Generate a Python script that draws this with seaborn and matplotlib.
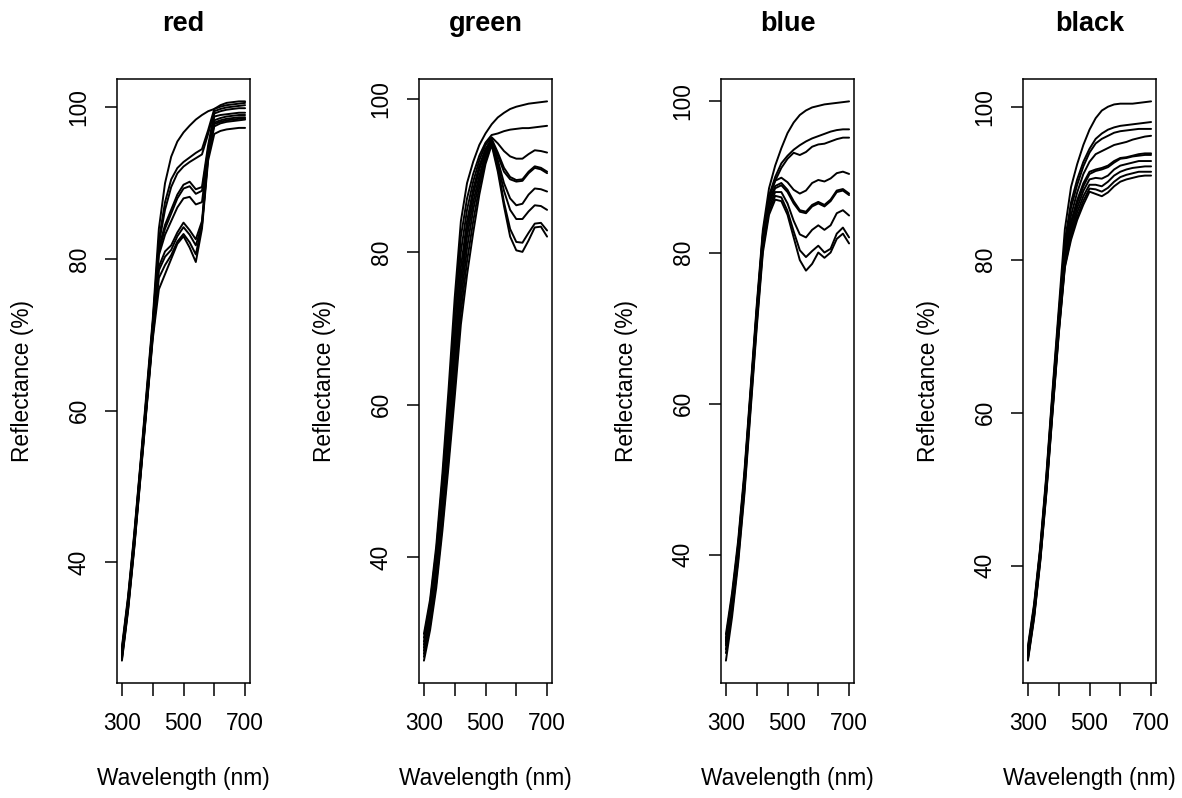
import numpy as np
import pandas as pd
import matplotlib
matplotlib.use("Agg")
import matplotlib.pyplot as plt
import seaborn as sns

wavelengths = [300, 320, 340, 360, 380, 400, 420, 440, 460, 480, 500,
               520, 540, 560, 580, 600, 620, 640, 660, 680, 700]

panel_titles = ["red", "green", "blue", "black"]

red_curves = [
    [28.8, 35.5, 43.8, 53.0, 62.5, 72.0, 84.0, 90.0, 93.5, 95.5, 96.7, 97.6, 98.4, 99.0, 99.5, 99.8, 100.1, 100.3, 100.4, 100.5, 100.6],
    [28.5, 35.2, 43.5, 52.7, 62.0, 71.5, 82.5, 87.5, 90.5, 92.0, 92.8, 93.4, 94.0, 94.5, 97.0, 99.8, 100.3, 100.6, 100.7, 100.8, 100.8],
    [28.3, 35.0, 43.3, 52.5, 61.8, 71.2, 82.0, 86.5, 89.5, 91.3, 92.2, 92.8, 93.3, 93.8, 96.5, 99.5, 99.8, 100.0, 100.1, 100.2, 100.3],
    [28.2, 34.8, 43.0, 52.3, 61.5, 71.0, 81.5, 84.5, 86.5, 88.5, 89.8, 90.2, 89.2, 89.5, 95.0, 99.2, 99.5, 99.7, 99.8, 99.9, 99.9],
    [28.0, 34.6, 42.8, 52.0, 61.2, 70.7, 81.0, 84.0, 86.0, 88.0, 89.3, 89.6, 88.6, 89.0, 94.5, 98.8, 99.0, 99.1, 99.2, 99.3, 99.3],
    [27.8, 34.4, 42.6, 51.8, 61.0, 70.4, 80.5, 83.2, 85.0, 86.8, 88.0, 88.2, 87.2, 87.5, 94.0, 98.3, 98.6, 98.8, 98.9, 99.0, 99.0],
    [27.6, 34.2, 42.4, 51.6, 60.8, 70.2, 79.0, 81.0, 81.8, 83.5, 84.8, 83.8, 82.6, 85.0, 94.0, 98.0, 98.3, 98.5, 98.6, 98.7, 98.7],
    [27.4, 34.0, 42.2, 51.4, 60.6, 70.0, 78.5, 80.3, 81.2, 83.0, 84.2, 83.2, 81.8, 84.5, 93.8, 97.8, 98.1, 98.3, 98.4, 98.5, 98.5],
    [27.2, 33.8, 42.0, 51.2, 60.4, 69.7, 77.5, 79.2, 80.5, 82.3, 83.3, 82.2, 80.6, 84.5, 93.5, 97.5, 97.9, 98.1, 98.2, 98.3, 98.4],
    [27.0, 33.6, 41.8, 51.0, 60.2, 69.4, 76.0, 78.0, 80.0, 82.0, 83.0, 81.5, 79.6, 84.0, 93.0, 96.5, 96.9, 97.1, 97.2, 97.3, 97.3],
]

green_curves = [
    [30.0, 34.5, 41.5, 51.0, 62.0, 74.0, 84.0, 89.0, 91.8, 94.0, 95.5, 96.7, 97.6, 98.2, 98.7, 99.0, 99.2, 99.4, 99.5, 99.6, 99.7],
    [29.5, 34.0, 40.8, 50.0, 60.5, 72.0, 82.0, 87.0, 90.2, 92.6, 94.3, 95.3, 95.5, 95.8, 96.0, 96.1, 96.2, 96.2, 96.3, 96.4, 96.5],
    [29.0, 33.5, 40.0, 49.0, 59.0, 70.0, 80.0, 85.5, 89.2, 92.0, 94.0, 95.0, 94.2, 93.2, 92.5, 92.2, 92.2, 92.8, 93.3, 93.2, 93.0],
    [28.6, 33.0, 39.3, 48.0, 57.5, 68.0, 78.0, 84.0, 88.2, 91.3, 93.5, 94.8, 93.0, 91.0, 89.8, 89.4, 89.5, 90.5, 91.2, 91.0, 90.5],
    [28.2, 32.6, 38.7, 47.2, 56.3, 66.5, 76.5, 83.0, 87.5, 90.8, 93.2, 94.6, 92.6, 90.5, 89.5, 89.2, 89.3, 90.3, 91.0, 90.8, 90.3],
    [27.8, 32.2, 38.0, 46.3, 55.0, 65.0, 75.0, 82.0, 86.5, 90.0, 92.8, 94.5, 92.0, 89.0, 87.0, 86.1, 86.3, 87.5, 88.3, 88.2, 87.9],
    [27.4, 31.7, 37.3, 45.3, 54.0, 63.5, 73.5, 80.5, 85.5, 89.3, 92.5, 94.4, 91.5, 88.0, 85.5, 84.3, 84.3, 85.3, 86.1, 86.0, 85.5],
    [27.0, 31.1, 36.7, 44.4, 53.0, 62.2, 72.0, 78.8, 84.0, 88.5, 92.0, 94.2, 91.0, 86.5, 83.0, 81.3, 81.2, 82.5, 83.7, 83.8, 82.8],
    [26.5, 30.5, 36.0, 43.5, 52.0, 61.0, 70.5, 77.0, 82.5, 87.5, 91.5, 94.0, 90.5, 86.0, 82.0, 80.2, 80.0, 81.5, 83.2, 83.3, 82.0],
]

blue_curves = [
    [29.5, 35.0, 42.0, 51.0, 62.0, 73.0, 83.0, 88.5, 91.5, 93.8, 95.8, 97.2, 98.2, 98.8, 99.2, 99.4, 99.6, 99.7, 99.8, 99.9, 100.0],
    [29.0, 34.5, 41.5, 50.5, 61.5, 72.5, 82.5, 87.5, 90.0, 91.8, 92.8, 93.6, 94.2, 94.7, 95.1, 95.4, 95.7, 96.0, 96.2, 96.3, 96.3],
    [28.7, 34.2, 41.2, 50.2, 61.2, 72.2, 82.2, 87.2, 89.5, 91.2, 92.4, 93.2, 92.9, 93.3, 94.0, 94.3, 94.4, 94.7, 95.0, 95.2, 95.2],
    [28.5, 34.0, 41.0, 50.0, 61.0, 72.0, 82.0, 87.5, 89.5, 89.9, 89.3, 88.3, 87.8, 88.2, 89.2, 89.6, 89.4, 89.8, 90.5, 90.7, 90.4],
    [28.2, 33.7, 40.7, 49.7, 60.7, 71.7, 81.5, 86.8, 88.8, 89.2, 88.3, 86.8, 85.6, 85.4, 86.3, 86.7, 86.3, 87.0, 88.2, 88.4, 87.8],
    [28.0, 33.5, 40.5, 49.5, 60.5, 71.5, 81.3, 86.5, 88.5, 88.9, 88.0, 86.5, 85.4, 85.2, 86.1, 86.5, 86.1, 86.8, 88.0, 88.2, 87.6],
    [27.5, 33.0, 40.0, 49.0, 60.0, 71.0, 80.8, 86.0, 88.0, 88.0, 86.5, 84.2, 82.4, 82.0, 83.0, 83.6, 83.0, 83.6, 85.2, 85.6, 84.9],
    [27.0, 32.5, 39.5, 48.5, 59.5, 70.5, 80.5, 85.5, 87.5, 87.3, 85.5, 82.8, 80.3, 79.4, 80.2, 80.9, 80.0, 80.5, 82.5, 83.3, 82.0],
    [26.0, 31.8, 39.0, 48.0, 59.0, 70.0, 80.0, 85.0, 87.0, 86.8, 85.0, 82.0, 79.0, 77.6, 78.5, 80.0, 79.3, 80.0, 81.8, 82.5, 81.2],
]

black_curves = [
    [29.5, 35.0, 42.5, 52.0, 63.0, 73.5, 84.0, 89.5, 92.5, 95.0, 97.0, 98.5, 99.5, 100.0, 100.3, 100.4, 100.4, 100.4, 100.5, 100.6, 100.7],
    [29.2, 34.7, 42.2, 51.6, 62.5, 72.8, 82.5, 87.5, 90.5, 92.8, 94.5, 95.8, 96.5, 97.0, 97.3, 97.5, 97.6, 97.7, 97.8, 97.9, 98.0],
    [29.0, 34.5, 42.0, 51.3, 62.2, 72.4, 82.0, 86.8, 89.8, 92.2, 94.0, 95.2, 95.8, 96.2, 96.6, 96.8, 96.9, 97.0, 97.1, 97.1, 97.1],
    [28.8, 34.3, 41.8, 51.0, 61.8, 72.0, 81.2, 85.8, 88.8, 91.2, 92.8, 93.8, 94.2, 94.6, 95.0, 95.2, 95.4, 95.7, 95.9, 96.1, 96.2],
    [28.6, 34.1, 41.5, 50.7, 61.4, 71.6, 80.5, 85.0, 87.8, 90.0, 91.5, 91.8, 92.0, 92.3, 92.9, 93.3, 93.4, 93.6, 93.8, 93.9, 93.9],
    [28.4, 33.9, 41.3, 50.5, 61.1, 71.3, 80.2, 84.6, 87.4, 89.6, 91.2, 91.6, 91.8, 92.1, 92.7, 93.2, 93.3, 93.5, 93.6, 93.7, 93.7],
    [28.2, 33.7, 41.1, 50.2, 60.8, 71.0, 79.8, 84.0, 86.8, 89.0, 90.5, 90.7, 90.6, 91.0, 91.8, 92.3, 92.5, 92.7, 92.9, 92.9, 92.9],
    [28.0, 33.5, 40.9, 50.0, 60.5, 70.7, 79.5, 83.5, 86.2, 88.3, 89.8, 89.8, 89.6, 90.2, 91.0, 91.5, 91.8, 92.0, 92.1, 92.2, 92.2],
    [27.8, 33.3, 40.7, 49.7, 60.2, 70.4, 79.2, 83.0, 85.6, 87.7, 89.3, 89.2, 88.9, 89.4, 90.2, 90.8, 91.1, 91.3, 91.5, 91.5, 91.5],
    [27.6, 33.1, 40.5, 49.5, 60.0, 70.2, 79.0, 82.6, 85.2, 87.2, 88.9, 88.6, 88.3, 88.8, 89.6, 90.2, 90.5, 90.7, 90.9, 91.0, 91.0],
]

x_ticks = [300, 400, 500, 600, 700]
x_tick_labels = ["300", "", "500", "", "700"]
y_ticks = [40, 60, 80, 100]
x_label = "Wavelength (nm)"
y_label = "Reflectance (%)"

sns.set_style("white")
plt.rcParams["font.family"] = ["Liberation Sans", "DejaVu Sans"]
plt.rcParams["text.color"] = "black"
plt.rcParams["xtick.color"] = "black"
plt.rcParams["ytick.color"] = "black"

W, H = 1182, 798
fig = plt.figure(figsize=(W / 100, H / 100), dpi=100)

panel_lefts = [117, 419, 721, 1023]
panel_w = 133
ax_top, ax_bottom = 79, 683
FS = 16.4

all_panels = [red_curves, green_curves, blue_curves, black_curves]
for i, (title, curves) in enumerate(zip(panel_titles, all_panels)):
    left = panel_lefts[i]
    ax = fig.add_axes([left / W, (H - ax_bottom) / H, panel_w / W, (ax_bottom - ax_top) / H])
    rows = []
    for c, vals in enumerate(curves):
        for wl, v in zip(wavelengths, vals):
            rows.append({"wl": wl, "refl": v, "curve": c})
    df = pd.DataFrame(rows)
    sns.lineplot(data=df, x="wl", y="refl", units="curve", estimator=None,
                 color="black", lw=1.4, ax=ax, legend=False)
    vmin = df["refl"].min()
    vmax = df["refl"].max()
    span = vmax - vmin
    ax.set_ylim(vmin - 0.04 * span, vmax + 0.04 * span)
    ax.set_xlim(300 - 0.04 * 400, 700 + 0.04 * 400)
    ax.set_xticks(x_ticks)
    ax.set_xticklabels(x_tick_labels)
    ax.set_yticks(y_ticks)
    ax.set_yticklabels([str(t) for t in y_ticks])
    ax.set_xlabel("")
    ax.set_ylabel("")
    for s in ax.spines.values():
        s.set_visible(True)
        s.set_color("black")
        s.set_linewidth(1.1)
    ax.tick_params(axis="both", direction="out", length=9, width=1.1,
                   colors="black", labelcolor="black", labelsize=FS,
                   bottom=True, left=True, top=False, right=False)
    ax.tick_params(axis="x", pad=12)
    ax.tick_params(axis="y", pad=10, labelrotation=90)
    for lab in ax.get_yticklabels():
        lab.set_va("center")

    cx = left + panel_w / 2
    fig.text(cx / W, 1 - 24 / H, title, ha="center", va="center",
             fontsize=19.5, fontweight="bold", color="black")
    fig.text(cx / W, 1 - 778 / H, x_label, ha="center", va="center",
             fontsize=FS, color="black")
    fig.text((left - 94) / W, 1 - 381 / H, y_label, ha="center", va="center",
             rotation=90, fontsize=FS, color="black")

fig.savefig("out.png", dpi=100)
